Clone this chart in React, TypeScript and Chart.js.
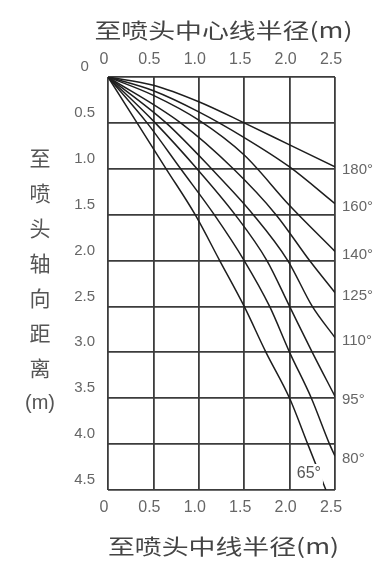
import React, { useEffect, useRef } from 'react';
import { Chart, registerables } from 'chart.js';

Chart.register(...registerables);

// ---- data ----
const angleLabels = ['180°', '160°', '140°', '125°', '110°', '95°', '80°', '65°'];

const x180 = [0, 0.5, 1.0, 1.5, 2.0, 2.5];
const y180 = [0, 0.09, 0.27, 0.5, 0.74, 0.98];

const x160 = [0, 0.5, 1.0, 1.5, 2.0, 2.5];
const y160 = [0, 0.15, 0.38, 0.66, 0.98, 1.38];

const x140 = [0, 0.5, 1.0, 1.5, 2.0, 2.5];
const y140 = [0, 0.2, 0.47, 0.85, 1.4, 1.9];

const x125 = [0, 0.8, 1.38, 1.85, 2.22, 2.5];
const y125 = [0, 0.5, 1.0, 1.5, 2.0, 2.35];

const x110 = [0, 0.64, 1.14, 1.6, 1.98, 2.25, 2.5];
const y110 = [0, 0.5, 1.0, 1.5, 2.0, 2.5, 2.84];

const x95 = [0, 0.52, 0.98, 1.4, 1.75, 2.0, 2.25, 2.5];
const y95 = [0, 0.5, 1.0, 1.5, 2.0, 2.5, 3.0, 3.48];

const x80 = [0, 0.43, 0.8, 1.17, 1.5, 1.78, 2.0, 2.24, 2.44, 2.5];
const y80 = [0, 0.5, 1.0, 1.5, 2.0, 2.5, 3.0, 3.5, 4.0, 4.13];

const x65 = [0, 0.32, 0.64, 0.96, 1.23, 1.5, 1.74, 2.0, 2.2, 2.4];
const y65 = [0, 0.5, 1.0, 1.5, 2.0, 2.5, 3.0, 3.5, 4.0, 4.5];

const xTickLabels = ['0', '0.5', '1.0', '1.5', '2.0', '2.5'];
const yTickLabels = ['0', '0.5', '1.0', '1.5', '2.0', '2.5', '3.0', '3.5', '4.0', '4.5'];

const topTitle = '至喷头中心线半径(m)';
const bottomTitle = '至喷头中线半径(m)';
const leftTitle = ['至', '喷', '头', '轴', '向', '距', '离', '(m)'];

const seriesX = [x180, x160, x140, x125, x110, x95, x80, x65];
const seriesY = [y180, y160, y140, y125, y110, y95, y80, y65];

const CJK = '"Noto Sans CJK SC", "Noto Sans", sans-serif';
const LAT = '"Liberation Sans", Arial, sans-serif';

function drawText(ctx: CanvasRenderingContext2D, text: string, x: number, y: number, font: string, color: string, sx = 1, align: CanvasTextAlign = 'center') {
  ctx.save();
  ctx.translate(x, y);
  ctx.scale(sx, 1);
  ctx.font = font;
  ctx.fillStyle = color;
  ctx.textAlign = align;
  ctx.textBaseline = 'middle';
  ctx.fillText(text, 0, 0);
  ctx.restore();
}

const labelsPlugin = {
  id: 'nozzleLabels',
  afterDraw(chart: any) {
    const { ctx, chartArea, scales } = chart;
    const cx = (chartArea.left + chartArea.right) / 2;
    // axis titles
    drawText(ctx, topTitle, cx + 2, chartArea.top - 47, `21px ${CJK}`, '#444', 1.28);
    drawText(ctx, bottomTitle, cx + 2, chartArea.bottom + 56, `21px ${CJK}`, '#444', 1.28);
    leftTitle.forEach((ch, i) => {
      drawText(ctx, ch, chartArea.left - 68, 158 + i * 35, ch.length > 1 ? `20px ${LAT}` : `21px ${CJK}`, '#555');
    });
    // angle labels
    angleLabels.forEach((lab, i) => {
      const xs = seriesX[i];
      const ys = seriesY[i];
      const lx = xs[xs.length - 1];
      const ly = ys[ys.length - 1];
      const px = scales.x.getPixelForValue(lx);
      const py = scales.y.getPixelForValue(ly);
      if (px >= chartArea.right - 1) {
        drawText(ctx, lab, chartArea.right + 7, py + 3, `15px ${LAT}`, '#666', 1, 'left');
      } else {
        const tx = px - 17;
        const ty = py - 16;
        ctx.save();
        ctx.fillStyle = '#fff';
        ctx.fillRect(tx - 12, ty - 10, 26, 20);
        ctx.restore();
        drawText(ctx, lab, tx, ty, `16px ${LAT}`, '#555');
      }
    });
  },
};

const xLabel = (v: any) => xTickLabels[Math.round(Number(v) / 0.5)] ?? '';
const yLabel = (v: any) => yTickLabels[Math.round(Number(v) / 0.5)] ?? '';

export default function App() {
  const ref = useRef<HTMLCanvasElement>(null);

  useEffect(() => {
    if (!ref.current) return;
    const gridColor = '#3c3c3c';
    const chart = new Chart(ref.current, {
      type: 'line',
      data: {
        datasets: angleLabels.map((lab, i) => ({
          label: lab,
          data: seriesX[i].map((x, j) => ({ x, y: seriesY[i][j] })),
          borderColor: '#1e1e1e',
          borderWidth: 1.5,
          pointRadius: 0,
          fill: false,
          cubicInterpolationMode: 'monotone' as const,
        })),
      },
      options: {
        responsive: false,
        animation: false,
        layout: { padding: { left: 0, right: 46, top: 0, bottom: 0 } },
        plugins: {
          legend: { display: false },
          tooltip: { enabled: false },
          title: { display: false },
        },
        scales: {
          x: {
            type: 'linear',
            position: 'bottom',
            min: 0,
            max: 2.5,
            afterFit: (s: any) => { s.height = 72; },
            grid: { color: gridColor, lineWidth: 1.8, drawTicks: false },
            border: { display: false },
            ticks: {
              stepSize: 0.5,
              autoSkip: false,
              maxRotation: 0,
              padding: 8,
              labelOffset: -4,
              color: '#666',
              font: { family: LAT, size: 16 },
              callback: xLabel,
            },
          },
          x2: {
            type: 'linear',
            position: 'top',
            min: 0,
            max: 2.5,
            afterFit: (s: any) => { s.height = 77; },
            grid: { display: false, drawTicks: false },
            border: { display: false },
            ticks: {
              stepSize: 0.5,
              autoSkip: false,
              maxRotation: 0,
              padding: 8,
              labelOffset: -4,
              color: '#666',
              font: { family: LAT, size: 16 },
              callback: xLabel,
            },
          },
          y: {
            type: 'linear',
            position: 'left',
            reverse: true,
            min: 0,
            max: 4.5,
            afterFit: (s: any) => { s.width = 108; },
            grid: { color: gridColor, lineWidth: 1.8, drawTicks: false },
            border: { display: false },
            ticks: {
              stepSize: 0.5,
              autoSkip: false,
              padding: 13,
              crossAlign: 'center',
              labelOffset: -10,
              color: '#666',
              font: { family: LAT, size: 15 },
              callback: yLabel,
            },
          },
        },
      },
      plugins: [labelsPlugin],
    } as any);
    return () => chart.destroy();
  }, []);

  return (
    <div style={{ position: 'absolute', left: 0, top: 0, width: 381, height: 562, background: '#fff' }}>
      <canvas ref={ref} width={381} height={562} style={{ display: 'block' }} />
    </div>
  );
}
